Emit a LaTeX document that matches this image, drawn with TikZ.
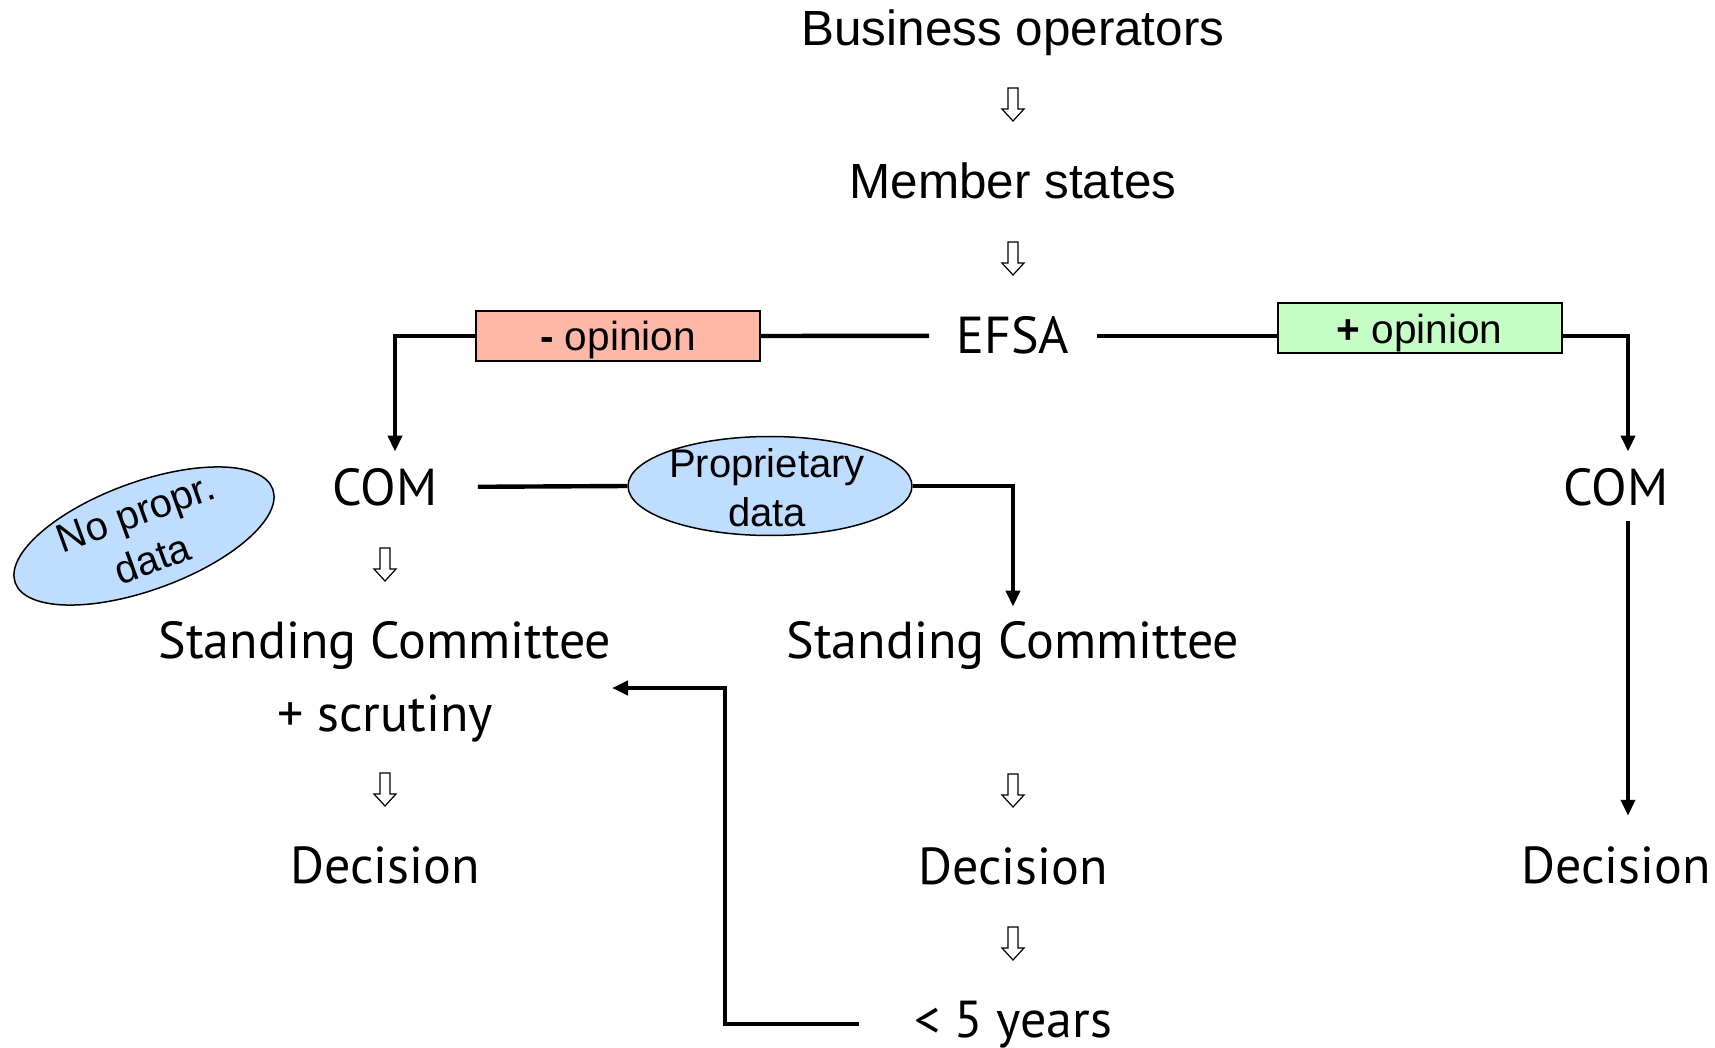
\documentclass[tikz,border=0pt]{standalone}
\usepackage{fontspec}
\setmainfont{Liberation Sans}
\newfontfamily\tahomafont{PT Sans}
\usetikzlibrary{arrows.meta,shapes.geometric}

\definecolor{negred}{RGB}{255,184,168}
\definecolor{posgreen}{RGB}{198,255,198}
\definecolor{datablue}{RGB}{191,222,255}

\newcommand*{\drawhollowarrow}[1]{%
    \draw[line width=0.6pt,line join=miter] #1 ++(-5,0) -- ++(10,0) -- ++(0,21) -- ++(6,0) -- ++(-11,12) -- ++(-11,-12) -- ++(6,0) -- cycle;
}

\tikzset{
    bigtext/.style={font=\fontsize{24.7}{28}\selectfont,anchor=base,inner sep=0pt},
    steptext/.style={font=\tahomafont\fontsize{26}{30}\selectfont,anchor=base,inner sep=0pt},
    opinionbox/.style={draw,line width=1pt,minimum width=142pt,minimum height=25pt,inner sep=0pt,text depth=0pt,font=\fontsize{20.3}{24}\selectfont},
    databubble/.style={ellipse,draw,line width=0.75pt,fill=datablue,inner sep=0pt},
    bubbletext/.style={font=\fontsize{20}{24.5}\selectfont,align=center,inner sep=0pt},
    link/.style={line width=2.2pt},
    linktip/.style={link,-{Triangle[width=7pt,length=8pt]}},
}

\begin{document}
\begin{tikzpicture}[x=0.5pt,y=-0.5pt,line cap=butt]
    \useasboundingbox (0,0) rectangle (1715,1048);
    % top of the chain
    \node[bigtext] (bo) at (1013,46) {Business operators};
    \drawhollowarrow{(1013,88)}
    \node[bigtext] (ms) at (1013,199) {Member states};
    \drawhollowarrow{(1013,242)}
    \node[steptext,inner xsep=13.5pt] (efsa) at (1013,354) {EFSA};
    \node[opinionbox,fill=negred] (neg) at (618,336) {\textbf{-} opinion};
    \node[opinionbox,fill=posgreen] (pos) at (1419.5,328.5) {\textbf{+} opinion};
    % left branch
    \node[steptext] (comL) at (385,505) {COM};
    \node[databubble,rotate=20,minimum width=137pt,minimum height=54pt] (noprop) at (144,536) {};
    \node[bubbletext,rotate=20] at (noprop) {No propr.\\data};
    \drawhollowarrow{(385,548)}
    \node[steptext] (scL) at (385,658) {Standing Committee};
    \node[steptext] (scr) at (385,731) {+ scrutiny};
    \drawhollowarrow{(385,773)}
    \node[steptext] (decL) at (385,883) {Decision};
    % middle branch
    \node[databubble,minimum width=142pt,minimum height=49.5pt] (prop) at (770,486) {};
    \node[bubbletext,anchor=base] at (767,526) {Proprietary\\data};
    \node[steptext] (scM) at (1013,658) {Standing Committee};
    \drawhollowarrow{(1013,774)}
    \node[steptext] (decM) at (1013,884) {Decision};
    \drawhollowarrow{(1013,927)}
    \node[steptext] (five) at (1013,1037) {< 5 years};
    \coordinate (back) at (612,688);
    % right branch
    \node[steptext] (comR) at (1616,505) {COM};
    \node[steptext] (decR) at (1616,883) {Decision};
    % connectors
    \draw[link] (efsa.west) -- (neg.east);
    \draw[linktip] (neg.west) -| ([xshift=5pt,yshift=8pt]comL.north);
    \draw[link] (efsa.east) -- (efsa.east -| pos.west);
    \draw[linktip] (pos.east |- efsa.east) -| ([xshift=6pt,yshift=8pt]comR.north);
    \draw[linktip] ([xshift=6pt,yshift=-7.5pt]comR.south) -- ([xshift=6pt,yshift=15pt]decR.north);
    \draw[link] ([xshift=20pt]comL.east) -- (prop.west);
    \draw[linktip] (prop.east) -| ([yshift=7pt]scM.north);
    \draw[linktip] ([xshift=-27.5pt]five.west) -- ++(-134,0) |- (back);
\end{tikzpicture}
\end{document}
